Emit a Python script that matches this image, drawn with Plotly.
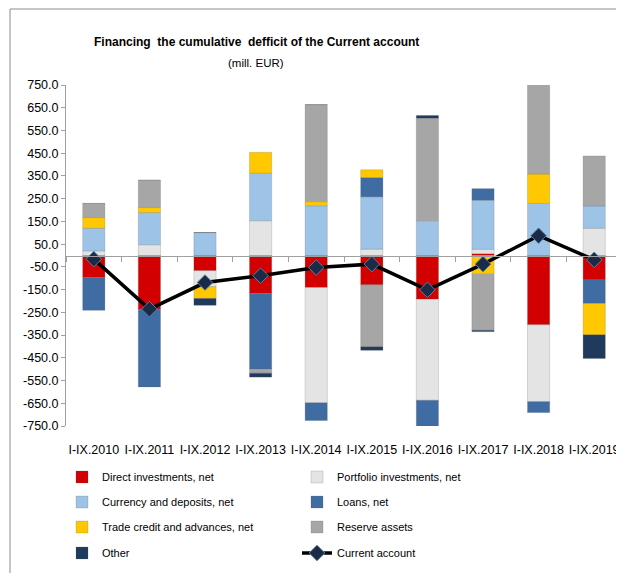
import plotly.graph_objects as go

categories = ["I-IX.2010", "I-IX.2011", "I-IX.2012", "I-IX.2013", "I-IX.2014",
              "I-IX.2015", "I-IX.2016", "I-IX.2017", "I-IX.2018", "I-IX.2019"]

direct_investments = [-97, -236, -67, -167, -141, -129, -192, 8, -305, -107]
portfolio_investments = [20, 47, -70, 153, -507, 28, -445, 19, -338, 120]
currency_deposits = [100, 142, 101, 209, 219, 230, 153, 216, 229, 98]
loans = [-144, -342, 0, -333, -78, 85, -120, 51, -48, -104]
trade_credit = [47, 22, -52, 92, 18, 34, -7, -82, 129, -138]
reserve_assets = [62, 120, 0, -18, 427, -273, 451, -247, 400, 220]
other = [0, 0, -30, -17, 0, -15, 12, -6, 0, -104]
current_account = [-16, -236, -119, -89, -53, -38, -151, -38, 87, -19]

y_tick_values = [-750, -650, -550, -450, -350, -250, -150, -50, 50, 150, 250, 350, 450, 550, 650, 750]
y_tick_labels = ["-750.0", "-650.0", "-550.0", "-450.0", "-350.0", "-250.0", "-150.0", "-50.0",
                 "50.0", "150.0", "250.0", "350.0", "450.0", "550.0", "650.0", "750.0"]

FONT = "Liberation Sans, Arial, sans-serif"

series = [
    ("Direct investments, net", direct_investments, "#D20000", "legend"),
    ("Portfolio investments, net", portfolio_investments, "#E4E4E4", "legend"),
    ("Currency and deposits, net", currency_deposits, "#9DC3E6", "legend2"),
    ("Loans, net", loans, "#3F6CA3", "legend2"),
    ("Trade credit and advances, net", trade_credit, "#FFC800", "legend3"),
    ("Reserve assets", reserve_assets, "#A6A6A6", "legend3"),
    ("Other", other, "#1F3A5C", "legend4"),
]

fig = go.Figure()
for name, vals, color, leg in series:
    fig.add_trace(go.Bar(
        x=categories, y=vals, name=name, legend=leg,
        marker=dict(color=color, line=dict(color="rgba(90,90,90,0.35)", width=0.6)),
    ))

fig.add_trace(go.Scatter(
    x=categories, y=current_account, name="Current account", legend="legend4",
    mode="lines+markers",
    line=dict(color="black", width=3.5),
    marker=dict(symbol="diamond", size=12, color="#1B2B45", line=dict(color="#5B7FA8", width=1)),
))

# invisible helper trace so the zero-line category axis is drawn
fig.add_trace(go.Scatter(
    x=categories, y=current_account, xaxis="x2", yaxis="y",
    mode="markers", marker=dict(opacity=0), showlegend=False, hoverinfo="skip",
))

# page body has an 8px margin: figure is drawn from (8, 8) in the window
OFF = 8
W, H = 624 - OFF, 573 - OFF
PLOT_L, PLOT_R, PLOT_T, PLOT_B = 66, 622, 85, 426   # in window pixels
L, R, T, B = PLOT_L - OFF, W - (PLOT_R - OFF), PLOT_T - OFF, H - (PLOT_B - OFF)
ph = PLOT_B - PLOT_T
pw = PLOT_R - PLOT_L

def py(px):
    return (PLOT_B - px) / ph

def pxx(px):
    return (px - PLOT_L) / pw

legend_common = dict(orientation="h", entrywidth=190, entrywidthmode="pixels",
                     xref="paper", xanchor="left", x=pxx(62),
                     yref="paper", yanchor="middle",
                     font=dict(family=FONT, size=11, color="black"),
                     bgcolor="rgba(0,0,0,0)", itemwidth=30, traceorder="normal")

fig.update_layout(
    width=W, height=H,
    margin=dict(l=L, r=R, t=T, b=B, autoexpand=False),
    barmode="relative", bargap=0.6,
    plot_bgcolor="white", paper_bgcolor="white",
    font=dict(family=FONT, color="black"),
    xaxis=dict(type="category", categoryarray=categories, range=[-0.5, 9.5],
               showline=False, ticks="", showgrid=False, zeroline=False, automargin=False,
               tickangle=0, tickfont=dict(family=FONT, size=12.5), ticklabelstandoff=14),
    xaxis2=dict(type="category", categoryarray=categories, range=[-0.5, 9.5],
                overlaying="x", anchor="free", position=0.5, automargin=False,
                showline=True, linecolor="#A0A0A0", linewidth=1,
                ticks="outside", ticklen=5, tickcolor="#A0A0A0", tickson="boundaries",
                showticklabels=False, showgrid=False, zeroline=False),
    yaxis=dict(range=[-750, 750], tickvals=y_tick_values, ticktext=y_tick_labels,
               showline=True, linecolor="#A0A0A0", linewidth=1, automargin=False,
               ticks="outside", ticklen=4, tickcolor="#A0A0A0",
               showgrid=False, zeroline=False,
               tickfont=dict(family=FONT, size=12.5)),
    legend=dict(**legend_common, y=py(477)),
    legend2=dict(**legend_common, y=py(502)),
    legend3=dict(**legend_common, y=py(527)),
    legend4=dict(**legend_common, y=py(553)),
    annotations=[
        dict(text="<b>Financing  the cumulative  defficit of the Current account</b>",
             x=pxx(256), y=py(42), xref="paper", yref="paper", showarrow=False,
             xanchor="center", yanchor="middle",
             font=dict(family=FONT, size=12, color="black")),
        dict(text="(mill. EUR)",
             x=pxx(256), y=py(63), xref="paper", yref="paper", showarrow=False,
             xanchor="center", yanchor="middle",
             font=dict(family=FONT, size=11.5, color="black")),
    ],
    shapes=[
        dict(type="rect", xref="paper", yref="paper",
             x0=pxx(10), x1=pxx(700), y0=py(650), y1=py(9),
             line=dict(color="#8C8C8C", width=1), fillcolor="rgba(0,0,0,0)", layer="below"),
    ],
)

fig.write_html("out.html")
